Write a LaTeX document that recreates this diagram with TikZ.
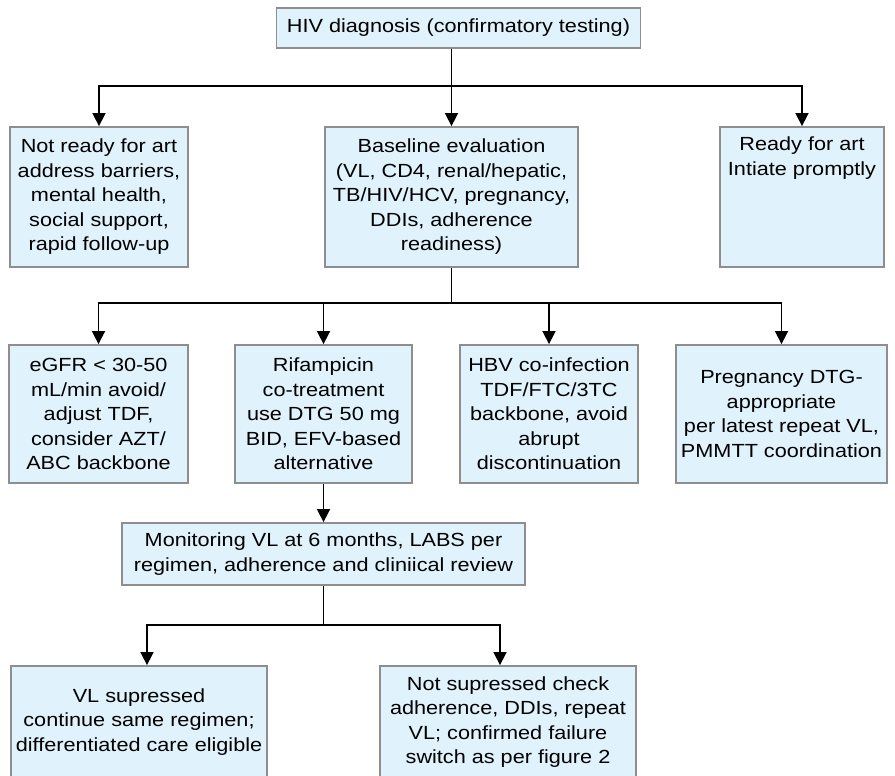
\documentclass[tikz,border=0pt]{standalone}
\usepackage{fontspec}
\setmainfont{Liberation Sans}[FakeStretch=1.14]
\usetikzlibrary{arrows.meta}

\definecolor{boxfill}{HTML}{E0F2FC}
\definecolor{boxline}{HTML}{8E8E8E}

\begin{document}
\begin{tikzpicture}[x=1pt, y=-1pt,
    box/.style={draw=boxline, fill=boxfill, line width=1.8pt, inner sep=0pt,
        align=center, font=\fontsize{19}{24.5}\selectfont},
    link/.style={line width=1.6pt},
    arr/.style={link, -{Triangle[width=13pt,length=13pt]}}]
    \useasboundingbox (0,0) rectangle (895,776);

    \node[box, minimum width=364pt, minimum height=40pt] (hiv) at (458.5,28) {HIV diagnosis (confirmatory testing)};

    \node[box, minimum width=178pt, minimum height=140pt] (notready) at (99,197) {Not ready for art\\address barriers,\\mental health,\\social support,\\rapid follow-up};
    \node[box, minimum width=253pt, minimum height=140pt] (baseline) at (451.5,197) {Baseline evaluation\\(VL, CD4, renal/hepatic,\\TB/HIV/HCV, pregnancy,\\DDIs, adherence\\readiness)};
    \node[box, minimum width=164pt, minimum height=140pt] (ready) at (802,197) {\parbox[c][120pt][t]{160pt}{\centering Ready for art\\Intiate promptly}};

    \node[box, minimum width=179pt, minimum height=138pt] (egfr) at (98.5,414) {eGFR < 30-50\\mL/min avoid/\\adjust TDF,\\consider AZT/\\ABC backbone};
    \node[box, minimum width=177pt, minimum height=138pt] (rif) at (323.5,414) {Rifampicin\\co-treatment\\use DTG 50 mg\\BID, EFV-based\\alternative};
    \node[box, minimum width=178pt, minimum height=138pt] (hbv) at (549,414) {HBV co-infection\\TDF/FTC/3TC\\backbone, avoid\\abrupt\\discontinuation};
    \node[box, minimum width=211pt, minimum height=138pt] (preg) at (781.5,414) {Pregnancy DTG-\\appropriate\\per latest repeat VL,\\PMMTT coordination};

    \node[box, minimum width=403pt, minimum height=62pt] (monitor) at (323.5,554) {Monitoring VL at 6 months, LABS per\\regimen, adherence and cliniical review};

    \node[box, minimum width=256pt, minimum height=112pt] (supp) at (139,722) {VL supressed\\continue same regimen;\\differentiated care eligible};
    \node[box, minimum width=256pt, minimum height=112pt] (notsupp) at (508,722) {Not supressed check\\adherence, DDIs, repeat\\VL; confirmed failure\\switch as per figure 2};

    % forks
    \coordinate (fork1) at (451.5,86);
    \coordinate (fork2) at (451.5,303);
    \coordinate (fork3) at (323.5,625);

    \draw[arr] (hiv.south -| baseline) -- (baseline);
    \draw[arr] (fork1) -| (notready);
    \draw[arr] (fork1) -| (ready);

    \draw[link] (baseline) -- (fork2);
    \draw[arr] (fork2) -| (egfr);
    \draw[arr] (fork2) -| (rif);
    \draw[arr] (fork2) -| (hbv);
    \draw[arr] (fork2) -| (preg);

    \draw[arr] (rif) -- (monitor);
    \draw[link] (monitor) -- (fork3);
    \draw[arr] (fork3) -| ([xshift=8pt]supp.north);
    \draw[arr] (fork3) -| ([xshift=-8pt]notsupp.north);
\end{tikzpicture}
\end{document}
